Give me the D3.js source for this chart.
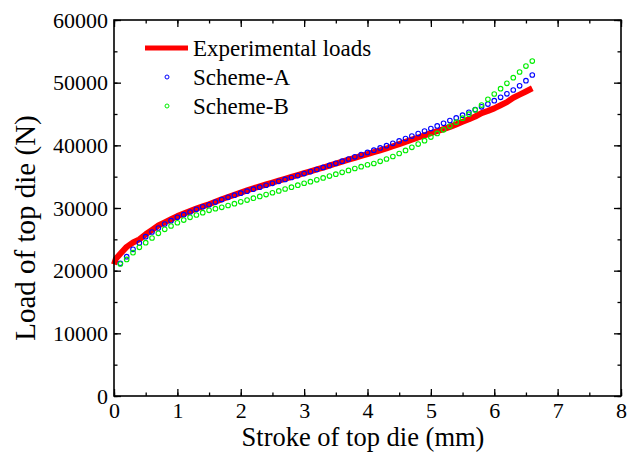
<!DOCTYPE html>
<html>
<head>
<meta charset="utf-8">
<script src="https://cdn.jsdelivr.net/npm/d3@7"></script>
<style>
  body { margin: 0; background: #fff; }
  svg { display: block; }
  svg text { font-family: "Liberation Serif", "Times New Roman", Times, serif !important; fill: #000; }
</style>
</head>
<body>
<svg id="chart" width="628" height="459"></svg>
<script>
// Stroke (mm) vs. load on the top die (N)
const expStroke = [0, 0.03, 0.1, 0.2, 0.3, 0.4, 0.5, 0.6, 0.7, 0.8, 0.9, 1.0, 1.1, 1.2, 1.3, 1.4, 1.5, 1.6, 1.7, 1.8, 1.9,
  2.0, 2.1, 2.2, 2.3, 2.4, 2.5, 2.6, 2.7, 2.8, 2.9, 3.0, 3.1, 3.2, 3.3, 3.4, 3.5, 3.6, 3.7, 3.8, 3.9,
  4.0, 4.1, 4.2, 4.3, 4.4, 4.5, 4.6, 4.7, 4.8, 4.9, 5.0, 5.1, 5.2, 5.3, 5.4, 5.5, 5.6, 5.7, 5.8, 5.9,
  6.0, 6.1, 6.2, 6.3, 6.4, 6.5, 6.6];
const expLoad = [21000, 21900, 22700, 23800, 24500, 25000, 25800, 26500, 27200, 27700, 28200, 28700, 29100, 29500, 29900, 30250, 30600, 31000, 31400, 31750, 32100,
  32450, 32800, 33150, 33450, 33750, 34050, 34350, 34650, 34950, 35250, 35550, 35850, 36150, 36450, 36750, 37100, 37400, 37700, 38000, 38300,
  38600, 38900, 39200, 39500, 39850, 40200, 40550, 40900, 41250, 41600, 41950, 42250, 42600, 42950, 43350, 43750, 44150, 44600, 45150, 45500,
  45900, 46400, 46900, 47600, 48100, 48600, 49100];

const schemeStroke = [0.1, 0.2, 0.3, 0.4, 0.5, 0.6, 0.7, 0.8, 0.9, 1.0, 1.1, 1.2, 1.3, 1.4, 1.5, 1.6, 1.7, 1.8, 1.9,
  2.0, 2.1, 2.2, 2.3, 2.4, 2.5, 2.6, 2.7, 2.8, 2.9, 3.0, 3.1, 3.2, 3.3, 3.4, 3.5, 3.6, 3.7, 3.8, 3.9,
  4.0, 4.1, 4.2, 4.3, 4.4, 4.5, 4.6, 4.7, 4.8, 4.9, 5.0, 5.1, 5.2, 5.3, 5.4, 5.5, 5.6, 5.7, 5.8, 5.9,
  6.0, 6.1, 6.2, 6.3, 6.4, 6.5, 6.6];
const schemeALoad = [21170, 22230, 23400, 24400, 25420, 26170, 26810, 27450, 27970, 28510, 28940, 29360, 29790, 30200, 30520, 30950, 31350, 31700, 32040,
  32370, 32690, 33010, 33320, 33630, 33940, 34250, 34560, 34870, 35180, 35500, 35820, 36140, 36470, 36800, 37130, 37470, 37820, 38170, 38520,
  38870, 39220, 39580, 39950, 40320, 40700, 41080, 41470, 41870, 42270, 42680, 43100, 43520, 43950, 44380, 44820, 45260, 45700, 46140, 46590,
  47120, 47660, 48220, 48830, 49500, 50310, 51220];
const schemeBLoad = [21060, 21800, 22870, 23730, 24470, 25210, 25960, 26600, 27130, 27650, 28080, 28510, 28880, 29250, 29630, 29900, 30110, 30400, 30690,
  30980, 31270, 31560, 31850, 32140, 32430, 32730, 33030, 33330, 33640, 33950, 34200, 34500, 34800, 35100, 35400, 35700, 36000, 36300, 36600,
  36900, 37100, 37450, 37820, 38220, 38700, 39180, 39680, 40200, 40750, 41320, 41900, 42480, 43080, 43700, 44330, 44980, 45650, 46430, 47340,
  48190, 49040, 49890, 50790, 51700, 52650, 53450];

const xTicks = [0, 1, 2, 3, 4, 5, 6, 7, 8];
const yTicks = [0, 10000, 20000, 30000, 40000, 50000, 60000];
const legendLabels = ["Experimental loads", "Scheme-A", "Scheme-B"];
const seriesColors = ["#ff0000", "#0000ff", "#00ee00"];

const SERIF = '"Liberation Serif", "Times New Roman", Times, serif';
const svg = d3.select("#chart").style("font-family", SERIF);
const m = { left: 114, right: 621, top: 20, bottom: 396 };

const x = d3.scaleLinear().domain([0, 8]).range([m.left, m.right]);
const y = d3.scaleLinear().domain([0, 60000]).range([m.bottom, m.top]);

const expData = expStroke.map((s, i) => [s, expLoad[i]]);
const aData = schemeStroke.map((s, i) => [s, schemeALoad[i]]);
const bData = schemeStroke.map((s, i) => [s, schemeBLoad[i]]);

// Experimental curve: thick red line
svg.append("path")
  .datum(expData)
  .attr("fill", "none")
  .attr("stroke", seriesColors[0])
  .attr("stroke-width", 6)
  .attr("stroke-linejoin", "round")
  .attr("stroke-linecap", "butt")
  .attr("d", d3.line().x(d => x(d[0])).y(d => y(d[1])));

// Simulated schemes: open circles
[[aData, seriesColors[1]], [bData, seriesColors[2]]].forEach(([data, c]) => {
  svg.append("g").selectAll("circle")
    .data(data)
    .join("circle")
    .attr("cx", d => x(d[0]))
    .attr("cy", d => y(d[1]))
    .attr("r", 2.3)
    .attr("fill", "none")
    .attr("stroke", c)
    .attr("stroke-width", 1.1);
});

// Axes with inward ticks on all four sides
const xMinor = d3.range(0, 8.01, 0.5);
const yMinor = d3.range(0, 60001, 5000);
const axisStyle = g => {
  g.attr("font-family", SERIF).style("font-family", SERIF);
  g.select(".domain").remove();
  g.selectAll("line").attr("stroke", "#000").attr("stroke-width", 1.3);
};

function drawAxis(axisFn, scale, transform, major, minor, showLabels) {
  const gMinor = svg.append("g").attr("transform", transform)
    .call(axisFn(scale).tickValues(minor).tickSize(-3.5).tickFormat(""));
  axisStyle(gMinor);
  const gMajor = svg.append("g").attr("transform", transform)
    .call(axisFn(scale).tickValues(major).tickSize(-7).tickPadding(10)
      .tickFormat(showLabels ? d3.format("d") : ""));
  axisStyle(gMajor);
  gMajor.selectAll("text").attr("font-size", 22).style("font-family", SERIF);
  return gMajor;
}

const bottomAxis = drawAxis(d3.axisBottom, x, `translate(0,${m.bottom})`, xTicks, xMinor, true);
bottomAxis.selectAll("text").attr("dy", "0.71em").attr("y", 6);
drawAxis(d3.axisTop, x, `translate(0,${m.top})`, xTicks, xMinor, false);
const leftAxis = drawAxis(d3.axisLeft, y, `translate(${m.left},0)`, yTicks, yMinor, true);
leftAxis.selectAll("text").attr("x", -6);
drawAxis(d3.axisRight, y, `translate(${m.right},0)`, yTicks, yMinor, false);

// Frame
svg.append("rect")
  .attr("x", m.left).attr("y", m.top)
  .attr("width", m.right - m.left).attr("height", m.bottom - m.top)
  .attr("fill", "none").attr("stroke", "#000").attr("stroke-width", 1.6);

// Axis titles
svg.append("text")
  .attr("x", 363)
  .attr("y", 446)
  .attr("text-anchor", "middle")
  .attr("font-size", 26.5)
  .style("font-family", SERIF)
  .text("Stroke of top die (mm)");

svg.append("text")
  .attr("transform", "translate(35,228) rotate(-90)")
  .attr("text-anchor", "middle")
  .attr("font-size", 29)
  .style("font-family", SERIF)
  .text("Load of top die (N)");

// Legend
const legend = svg.append("g");
const rowY = [48, 77, 106];
legend.append("line")
  .attr("x1", 145).attr("x2", 188)
  .attr("y1", rowY[0]).attr("y2", rowY[0])
  .attr("stroke", seriesColors[0]).attr("stroke-width", 5);
[1, 2].forEach(i => {
  legend.append("circle")
    .attr("cx", 167).attr("cy", rowY[i]).attr("r", 2)
    .attr("fill", "none").attr("stroke", seriesColors[i]).attr("stroke-width", 1);
});
legendLabels.forEach((t, i) => {
  legend.append("text")
    .attr("x", 193).attr("y", rowY[i] + 7.5)
    .attr("font-size", 23)
    .style("font-family", SERIF)
    .text(t);
});
</script>
</body>
</html>
